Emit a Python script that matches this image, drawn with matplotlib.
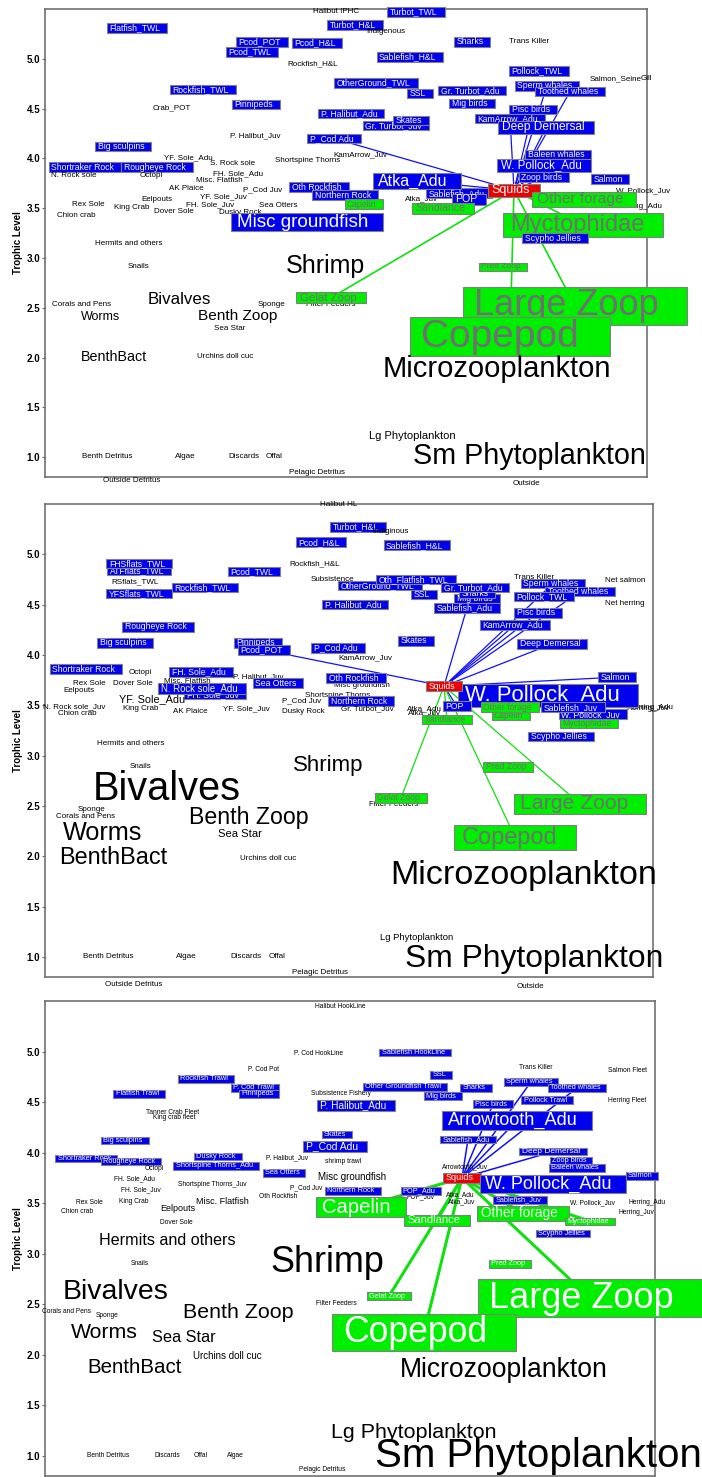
import numpy as np
import matplotlib
matplotlib.use("Agg")
import matplotlib.pyplot as plt
from matplotlib.patches import Rectangle

plt.rcParams['font.family'] = ['Liberation Sans', 'DejaVu Sans']

# node tables: (label, x layout position, trophic level, font size or None, group)
# group: "pred" = eats/catches squid, "prey" = eaten by squid, "focal" = squid, "" = no link
p1_nodes = [
    ("Halibut IPHC", 336, 5.47, None, ""),
    ("Turbot_TWL", 416, 5.47, None, "pred"),
    ("Turbot_H&L", 355, 5.34, None, "pred"),
    ("Indigenous", 386, 5.27, None, ""),
    ("Flatfish_TWL", 137, 5.31, None, "pred"),
    ("Pcod_POT", 262, 5.17, None, "pred"),
    ("Pcod_TWL", 252, 5.07, None, "pred"),
    ("Pcod_H&L", 317, 5.16, None, "pred"),
    ("Rockfish_H&L", 313, 4.95, None, ""),
    ("Sharks", 472, 5.17, None, "pred"),
    ("Trans Killer", 529, 5.17, None, ""),
    ("Sablefish_H&L", 410, 5.02, None, "pred"),
    ("Pollock_TWL", 539, 4.88, None, "pred"),
    ("Salmon_Seine", 616, 4.80, None, ""),
    ("Gill", 646, 4.80, None, ""),
    ("OtherGround_TWL", 376, 4.76, None, "pred"),
    ("SSL", 420, 4.65, None, "pred"),
    ("Gr. Turbot_Adu", 472, 4.68, None, "pred"),
    ("Mig birds", 472, 4.55, None, "pred"),
    ("Sperm whales", 547, 4.73, None, "pred"),
    ("Toothed whales", 570, 4.67, None, "pred"),
    ("Pisc birds", 533, 4.49, None, "pred"),
    ("KamArrow_Adu", 510, 4.40, None, "pred"),
    ("Rockfish_TWL", 203, 4.69, None, "pred"),
    ("Pinnipeds", 256, 4.54, None, "pred"),
    ("Crab_POT", 172, 4.51, None, ""),
    ("P. Halibut_Adu", 351, 4.45, None, "pred"),
    ("Gr. Turbot_Juv", 396, 4.33, None, "pred"),
    ("Skates", 411, 4.38, None, "pred"),
    ("Deep Demersal", 546, 4.31, 8.6, "pred"),
    ("P. Halibut_Juv", 255, 4.23, None, ""),
    ("P_Cod Adu", 334, 4.20, None, "pred"),
    ("Big sculpins", 123, 4.12, None, "pred"),
    ("KamArrow_Juv", 360, 4.04, None, ""),
    ("Baleen whales", 558, 4.04, None, "pred"),
    ("YF. Sole_Adu", 188, 4.01, None, ""),
    ("Shortspine Thorns", 308, 3.98, None, ""),
    ("S. Rock sole", 233, 3.95, None, ""),
    ("Shortraker Rock", 85, 3.91, None, "pred"),
    ("Rougheye Rock", 157, 3.91, None, "pred"),
    ("N. Rock sole", 74, 3.83, None, ""),
    ("Octopi", 151, 3.83, None, ""),
    ("FH. Sole_Adu", 238, 3.85, None, ""),
    ("Misc. Flatfish", 219, 3.78, None, ""),
    ("AK Plaice", 186, 3.70, None, ""),
    ("P_Cod Juv", 263, 3.68, None, ""),
    ("YF. Sole_Juv", 223, 3.61, None, ""),
    ("Eelpouts", 157, 3.59, None, ""),
    ("FH. Sole_Juv", 210, 3.53, None, ""),
    ("Rex Sole", 88, 3.54, None, ""),
    ("King Crab", 132, 3.51, None, ""),
    ("Sea Otters", 278, 3.53, None, ""),
    ("Dover Sole", 174, 3.47, None, ""),
    ("Dusky Rock", 240, 3.46, None, ""),
    ("Chion crab", 76, 3.43, None, ""),
    ("Oth Rockfish", 319, 3.71, None, "pred"),
    ("Northern Rock", 345, 3.63, None, "pred"),
    ("W. Pollock_Juv", 643, 3.67, None, ""),
    ("Herring_Adu", 640, 3.52, None, ""),
    ("Atka_Juv", 421, 3.59, None, ""),
    ("Capelin", 364, 3.54, None, "prey"),
    ("Misc groundfish", 307, 3.36, 13.6, "pred"),
    ("Sablefish_Adu", 459, 3.65, None, "pred"),
    ("Atka_Adu", 417, 3.77, 11.5, "pred"),
    ("POP", 469, 3.59, 7.7, "pred"),
    ("Sandlance", 443, 3.50, 7.6, "prey"),
    ("W. Pollock_Adu", 544, 3.93, 8.3, "pred"),
    ("Zoop birds", 544, 3.81, None, "pred"),
    ("Salmon", 610, 3.79, None, "pred"),
    ("Squids", 514, 3.68, 9, "focal"),
    ("Myctophidae", 583, 3.33, 17, "prey"),
    ("Other forage", 584, 3.59, 11.1, "prey"),
    ("Scypho Jellies", 555, 3.20, None, "pred"),
    ("Hermits and others", 129, 3.14, None, ""),
    ("Snails", 138, 2.91, None, ""),
    ("Shrimp", 325, 2.92, 18, ""),
    ("Filter Feeders", 331, 2.53, None, ""),
    ("Gelat Zoop", 331, 2.60, 8.2, "prey"),
    ("Pred Zoop", 503, 2.91, 6, "prey"),
    ("Large Zoop", 575, 2.52, 26, "prey"),
    ("Copepod", 510, 2.21, 28, "prey"),
    ("Microzooplankton", 497, 1.88, 21, ""),
    ("Lg Phytoplankton", 412, 1.21, 8, ""),
    ("Sm Phytoplankton", 529, 1.01, 20.7, ""),
    ("Outside", 526, 0.73, None, ""),
    ("Corals and Pens", 82, 2.53, None, ""),
    ("Bivalves", 179, 2.58, 12.2, ""),
    ("Worms", 101, 2.41, 9, ""),
    ("Benth Zoop", 238, 2.42, 11.1, ""),
    ("Sponge", 271, 2.53, None, ""),
    ("Sea Star", 230, 2.29, None, ""),
    ("BenthBact", 114, 2.01, 10.3, ""),
    ("Urchins doll cuc", 225, 2.01, None, ""),
    ("Benth Detritus", 107, 1.01, None, ""),
    ("Algae", 185, 1.01, None, ""),
    ("Discards", 244, 1.01, None, ""),
    ("Offal", 274, 1.01, None, ""),
    ("Pelagic Detritus", 317, 0.85, None, ""),
    ("Outside Detritus", 132, 0.76, None, ""),
]
p1_pred_links = ["P_Cod Adu", "Atka_Adu", "Sablefish_Adu", "KamArrow_Adu", "Deep Demersal",
                 "Pisc birds", "Sperm whales", "Toothed whales", "Baleen whales",
                 "W. Pollock_Adu", "Zoop birds", "POP"]
p1_prey_links = ["Gelat Zoop", "Copepod", "Large Zoop", "Myctophidae", "Other forage", "Sandlance"]

p2_nodes = [
    ("Halibut HL", 339, 5.50, None, ""),
    ("Turbot_H&L", 358, 5.27, None, "pred"),
    ("Indiginous", 390, 5.23, None, ""),
    ("Pcod_H&L", 321, 5.12, None, "pred"),
    ("Sablefish_H&L", 417, 5.09, None, "pred"),
    ("ATFflats_TWL", 139, 4.84, None, "pred"),
    ("FHSflats_TWL", 139, 4.91, None, "pred"),
    ("RSflats_TWL", 135, 4.73, None, ""),
    ("YFSflats_TWL", 139, 4.61, None, "pred"),
    ("Rockfish_TWL", 205, 4.67, None, "pred"),
    ("Pcod_TWL", 254, 4.83, None, "pred"),
    ("Rockfish_H&L", 315, 4.91, None, ""),
    ("Subsistence", 332, 4.75, None, ""),
    ("OtherGround_TWL", 380, 4.69, None, "pred"),
    ("Oth_Flatfish_TWL", 416, 4.75, None, "pred"),
    ("SSL", 424, 4.60, None, "pred"),
    ("Mig birds", 477, 4.56, None, "pred"),
    ("Sharks", 477, 4.61, None, "pred"),
    ("Gr. Turbot_Adu", 475, 4.67, None, "pred"),
    ("Sablefish_Adu", 467, 4.47, None, "pred"),
    ("P. Halibut_Adu", 355, 4.50, None, "pred"),
    ("Trans Killer", 534, 4.77, None, ""),
    ("Sperm whales", 553, 4.71, None, "pred"),
    ("Toothed whales", 580, 4.63, None, "pred"),
    ("Pollock_TWL", 544, 4.58, None, "pred"),
    ("Net salmon", 625, 4.74, None, ""),
    ("Net herring", 625, 4.51, None, ""),
    ("Pisc birds", 538, 4.42, None, "pred"),
    ("KamArrow_Adu", 515, 4.30, None, "pred"),
    ("Deep Demersal", 552, 4.11, None, "pred"),
    ("Skates", 416, 4.14, None, "pred"),
    ("P_Cod Adu", 338, 4.07, None, "pred"),
    ("KamArrow_Juv", 365, 3.97, None, ""),
    ("Pinnipeds", 258, 4.12, None, "pred"),
    ("Pcod_POT", 264, 4.05, None, "pred"),
    ("Rougheye Rock", 158, 4.28, None, "pred"),
    ("Big sculpins", 125, 4.12, None, "pred"),
    ("Shortraker Rock", 86, 3.86, None, "pred"),
    ("Octopi", 140, 3.83, None, ""),
    ("Rex Sole", 89, 3.72, None, ""),
    ("Dover Sole", 133, 3.72, None, ""),
    ("Eelpouts", 79, 3.65, None, ""),
    ("Misc. Flatfish", 187, 3.74, None, ""),
    ("FH. Sole_Adu", 201, 3.83, None, "pred"),
    ("P. Halibut_Juv", 258, 3.78, None, ""),
    ("FH. Sole_Juv", 215, 3.61, None, "pred"),
    ("N. Rock sole_Adu", 202, 3.67, 6.9, "pred"),
    ("Sea Otters", 278, 3.72, None, "pred"),
    ("YF. Sole_Adu", 152, 3.56, 7.8, ""),
    ("N. Rock sole_Juv", 74, 3.49, None, ""),
    ("Chion crab", 77, 3.42, None, ""),
    ("King Crab", 141, 3.47, None, ""),
    ("AK Plaice", 190, 3.44, None, ""),
    ("YF. Sole_Juv", 246, 3.47, None, ""),
    ("P_Cod Juv", 302, 3.54, None, ""),
    ("Dusky Rock", 303, 3.44, None, ""),
    ("Shortspine Thorns", 338, 3.60, None, ""),
    ("Misc groundfish", 362, 3.70, None, ""),
    ("Oth Rockfish", 356, 3.77, None, "pred"),
    ("Northern Rock", 361, 3.54, None, "pred"),
    ("Gr. Turbot_Juv", 367, 3.47, None, ""),
    ("Atka_Adu", 424, 3.47, None, ""),
    ("Atka_Juv", 424, 3.43, None, ""),
    ("Herring_Adu", 651, 3.48, None, ""),
    ("Herring_Juv", 648, 3.47, None, ""),
    ("Salmon", 617, 3.78, None, "pred"),
    ("W. Pollock_Adu", 548, 3.60, 15.9, "pred"),
    ("Squids", 444, 3.69, None, "focal"),
    ("POP", 457, 3.49, None, "pred"),
    ("Capelin", 511, 3.40, None, "prey"),
    ("Other forage", 510, 3.48, None, "prey"),
    ("W. Pollock_Juv", 593, 3.41, None, "pred"),
    ("Sablefish_Juv", 573, 3.48, None, "pred"),
    ("Myctophidae", 589, 3.32, None, "prey"),
    ("Sandlance", 447, 3.36, None, "prey"),
    ("Scypho Jellies", 561, 3.19, None, "pred"),
    ("Hermits and others", 131, 3.12, None, ""),
    ("Snails", 140, 2.89, None, ""),
    ("Bivalves", 167, 2.67, 28.6, ""),
    ("Sponge", 91, 2.46, None, ""),
    ("Corals and Pens", 86, 2.39, None, ""),
    ("Worms", 103, 2.23, 18.2, ""),
    ("BenthBact", 113, 1.99, 16.9, ""),
    ("Benth Zoop", 249, 2.38, 16.7, ""),
    ("Sea Star", 240, 2.22, 8.1, ""),
    ("Urchins doll cuc", 268, 1.98, None, ""),
    ("Shrimp", 328, 2.90, 16, ""),
    ("Filter Feeders", 394, 2.51, None, ""),
    ("Gelat Zoop", 401, 2.58, None, "prey"),
    ("Pred Zoop", 508, 2.89, None, "prey"),
    ("Large Zoop", 580, 2.52, 15.3, "prey"),
    ("Copepod", 515, 2.19, 16.9, "prey"),
    ("Microzooplankton", 524, 1.81, 24.6, ""),
    ("Lg Phytoplankton", 417, 1.19, 6.8, ""),
    ("Sm Phytoplankton", 534, 0.98, 22.9, ""),
    ("Outside", 530, 0.71, None, ""),
    ("Benth Detritus", 108, 1.00, None, ""),
    ("Algae", 186, 1.00, None, ""),
    ("Discards", 246, 1.00, None, ""),
    ("Offal", 277, 1.00, None, ""),
    ("Pelagic Detritus", 320, 0.84, None, ""),
    ("Outside Detritus", 134, 0.73, None, ""),
]
p2_pred_links = ["Pcod_POT", "Sablefish_Adu", "KamArrow_Adu", "Deep Demersal", "Pisc birds",
                 "Sperm whales", "Toothed whales", "W. Pollock_Adu", "Salmon", "POP"]
p2_prey_links = ["Gelat Zoop", "Copepod", "Large Zoop", "Sandlance", "Other forage"]

p3_nodes = [
    ("Halibut HookLine", 340, 5.45, None, ""),
    ("P. Cod HookLine", 319, 4.98, None, ""),
    ("P. Cod Pot", 263, 4.82, None, ""),
    ("Sablefish HookLine", 415, 4.99, None, "pred"),
    ("SSL", 441, 4.77, None, "pred"),
    ("Trans Killer", 536, 4.84, None, ""),
    ("Salmon Fleet", 627, 4.81, None, ""),
    ("Rockfish Trawl", 206, 4.73, None, "pred"),
    ("P. Cod Trawl", 255, 4.64, None, "pred"),
    ("Pinnipeds", 259, 4.58, None, "pred"),
    ("Flatfish Trawl", 139, 4.58, None, "pred"),
    ("Subsistence Fishery", 341, 4.58, None, ""),
    ("Other Groundfish Trawl", 405, 4.65, None, "pred"),
    ("Sharks", 476, 4.64, None, "pred"),
    ("Mig birds", 443, 4.56, None, "pred"),
    ("Sperm whales", 531, 4.70, None, "pred"),
    ("Toothed whales", 577, 4.64, None, "pred"),
    ("Pollock Trawl", 547, 4.52, None, "pred"),
    ("Herring Fleet", 627, 4.52, None, ""),
    ("Pisc birds", 493, 4.48, None, "pred"),
    ("Tanner Crab Fleet", 173, 4.40, None, ""),
    ("King crab fleet", 174, 4.35, None, ""),
    ("P. Halibut_Adu", 356, 4.47, 7.3, "pred"),
    ("Arrowtooth_Adu", 517, 4.32, 13.1, "pred"),
    ("Skates", 337, 4.18, None, "pred"),
    ("Sablefish_Adu", 468, 4.13, None, "pred"),
    ("Big sculpins", 125, 4.12, None, "pred"),
    ("P_Cod Adu", 335, 4.06, 7.5, "pred"),
    ("Deep Demersal", 553, 4.01, 6, "pred"),
    ("Dusky Rock", 218, 3.96, None, "pred"),
    ("P. Halibut_Juv", 287, 3.95, None, ""),
    ("Shortraker Rock", 86, 3.94, None, "pred"),
    ("Rougheye Rock", 131, 3.91, None, "pred"),
    ("shrimp trawl", 343, 3.91, None, ""),
    ("Zoop birds", 571, 3.92, None, "pred"),
    ("Shortspine Thorns_Adu", 216, 3.87, None, "pred"),
    ("Baleen whales", 577, 3.85, None, "pred"),
    ("Arrowtooth_Juv", 465, 3.86, None, ""),
    ("Octopi", 154, 3.84, None, ""),
    ("Sea Otters", 284, 3.80, None, "pred"),
    ("Misc groundfish", 352, 3.76, 7, ""),
    ("FH. Sole_Adu", 134, 3.74, None, ""),
    ("Shortspine Thorns_Juv", 212, 3.68, None, ""),
    ("P_Cod Juv", 306, 3.65, None, ""),
    ("FH. Sole_Juv", 141, 3.63, None, ""),
    ("Oth Rockfish", 278, 3.57, None, ""),
    ("Misc. Flatfish", 222, 3.52, 6.5, ""),
    ("Rex Sole", 89, 3.51, None, ""),
    ("King Crab", 134, 3.52, None, ""),
    ("Eelpouts", 178, 3.45, 6.5, ""),
    ("Chion crab", 77, 3.42, None, ""),
    ("Dover Sole", 176, 3.31, None, ""),
    ("Northern Rock", 353, 3.62, None, "pred"),
    ("POP_Juv", 421, 3.56, None, ""),
    ("POP_Adu", 421, 3.62, None, "pred"),
    ("Atka_Adu", 460, 3.58, None, ""),
    ("Atka_Juv", 462, 3.51, None, ""),
    ("W. Pollock_Juv", 593, 3.50, None, ""),
    ("Herring_Adu", 647, 3.51, None, ""),
    ("Herring_Juv", 636, 3.41, None, ""),
    ("Squids", 462, 3.75, 6.5, "focal"),
    ("W. Pollock_Adu", 553, 3.69, 13, "pred"),
    ("Salmon", 642, 3.77, None, "pred"),
    ("Sablefish_Juv", 520, 3.53, None, "pred"),
    ("Capelin", 361, 3.46, 14.6, "prey"),
    ("Sandlance", 437, 3.33, 8, "prey"),
    ("Other forage", 523, 3.40, 9.8, "prey"),
    ("Myctophidae", 590, 3.32, None, "prey"),
    ("Scypho Jellies", 563, 3.20, None, "pred"),
    ("Hermits and others", 167, 3.13, 11.6, ""),
    ("Snails", 140, 2.90, None, ""),
    ("Shrimp", 327, 2.91, 25.9, ""),
    ("Bivalves", 116, 2.62, 20.4, ""),
    ("Corals and Pens", 66, 2.43, None, ""),
    ("Sponge", 107, 2.39, None, ""),
    ("Benth Zoop", 238, 2.42, 15.4, ""),
    ("Worms", 104, 2.22, 15.3, ""),
    ("Sea Star", 184, 2.17, 11.8, ""),
    ("Urchins doll cuc", 227, 1.99, 7, ""),
    ("BenthBact", 135, 1.87, 14.8, ""),
    ("Filter Feeders", 336, 2.51, None, ""),
    ("Gelat Zoop", 389, 2.58, None, "prey"),
    ("Pred Zoop", 510, 2.90, None, "prey"),
    ("Large Zoop", 590, 2.56, 26, "prey"),
    ("Copepod", 424, 2.22, 25.7, "prey"),
    ("Microzooplankton", 504, 1.85, 19.1, ""),
    ("Lg Phytoplankton", 414, 1.23, 15.4, ""),
    ("Sm Phytoplankton", 538, 1.00, 29, ""),
    ("Benth Detritus", 108, 1.00, None, ""),
    ("Discards", 167, 1.00, None, ""),
    ("Offal", 201, 1.00, None, ""),
    ("Algae", 235, 1.00, None, ""),
    ("Pelagic Detritus", 322, 0.86, None, ""),
]
p3_pred_links = ["Sablefish_Adu", "Arrowtooth_Adu", "Pisc birds", "Sperm whales", "Toothed whales",
                 "Deep Demersal", "W. Pollock_Adu"]
p3_prey_links = ["Gelat Zoop", "Copepod", "Large Zoop", "Sandlance", "Capelin", "Other forage",
                 "Myctophidae"]

tl_ticks = [1.0, 1.5, 2.0, 2.5, 3.0, 3.5, 4.0, 4.5, 5.0]

W, H, DPI = 702, 1477, 100
fig = plt.figure(figsize=(W / DPI, H / DPI), dpi=DPI)

# panel frames in pixels: left, right, top, bottom
frames = [(45, 647, 9, 477), (45, 653, 504, 977), (45, 655, 1001, 1476)]
# per panel: plain font, boxed font, prey text colour, pred lw, prey lw
styles = [(5.8, 6.2, "#707070", 0.9, 1.2),
          (5.8, 6.2, "#707070", 0.9, 0.9),
          (4.8, 5.3, "white", 1.1, 2.2)]
panels = [(p1_nodes, p1_pred_links, p1_prey_links),
          (p2_nodes, p2_pred_links, p2_prey_links),
          (p3_nodes, p3_pred_links, p3_prey_links)]

box_fc = {"pred": "#0000EE", "prey": "#00EE00", "focal": "#EE0000"}
pending = []

for (L, R, T, B), (plain_fs, box_fs, prey_tc, lw_pred, lw_prey), (nodes, preds, preys) in zip(frames, styles, panels):
    ax = fig.add_axes([L / W, 1 - B / H, (R - L) / W, (B - T) / H])
    ax.set_xlim(L, R)
    ax.set_ylim(0.8, 5.5)
    ax.set_xticks([])
    ax.set_yticks(tl_ticks)
    ax.set_yticklabels(["%.1f" % v for v in tl_ticks], fontweight="bold", fontsize=7)
    ax.tick_params(axis="y", length=2.5, width=0.8, color="#666666", pad=1)
    for s in ax.spines.values():
        s.set_color("#666666")
        s.set_linewidth(1.1)
    fig.text(18 / W, 1 - (T + B) / 2 / H, "Trophic Level", rotation=90, fontsize=7,
             fontweight="bold", ha="center", va="center")

    pos = {n[0]: (n[1], n[2]) for n in nodes}
    focal = [n for n in nodes if n[4] == "focal"][0]
    fx, fy = focal[1], focal[2]
    for name in preds:
        x, y = pos[name]
        ax.plot([fx, x], [fy, y], color="#1010FF", lw=lw_pred, zorder=2)
    for name in preys:
        x, y = pos[name]
        ax.plot([fx, x], [fy, y], color="#10E010", lw=lw_prey, zorder=2)

    for i, (name, x, tl, fs, grp) in enumerate(nodes):
        z = 3 + i * 0.01
        if grp:
            fs = fs or box_fs
            px = fs * DPI / 72
            tc = prey_tc if grp == "prey" else "white"
            t = ax.text(x - 0.25 * px, tl, name, ha="center", va="center", fontsize=fs,
                        color=tc, zorder=z + 0.005, clip_on=False)
            pending.append((ax, t, px, box_fc[grp], z))
        else:
            fs = fs or plain_fs
            ax.text(x, tl, name, ha="center", va="center", fontsize=fs, color="black",
                    zorder=z, clip_on=False)

# boxes sized from the drawn text, wider on the right like the original
renderer = fig.canvas.get_renderer()
for ax, t, px, fc, z in pending:
    bb = t.get_window_extent(renderer)
    inv = ax.transData.inverted()
    x0, y0 = inv.transform((bb.x0 - 0.3 * px, bb.y0 - 0.04 * px))
    x1, y1 = inv.transform((bb.x1 + 0.8 * px, bb.y1 + 0.04 * px))
    ax.add_patch(Rectangle((x0, y0), x1 - x0, y1 - y0, facecolor=fc, edgecolor="#808080",
                           lw=0.8, zorder=z, clip_on=False))

fig.savefig("out.png", dpi=DPI)
